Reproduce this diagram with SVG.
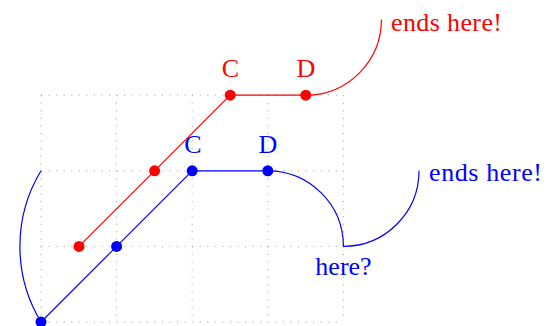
<svg xmlns="http://www.w3.org/2000/svg" width="559" height="326" viewBox="0 0 559 326">
<style>
.grid{stroke:#a0a0a0;stroke-width:1;stroke-dasharray:1 6.56;fill:none}
.red{stroke:#ff0000;stroke-width:1.2;fill:none}
.blue{stroke:#0000ff;stroke-width:1.2;fill:none}
.t{font-family:"Liberation Serif","Times New Roman",serif;font-size:26px}
.tr{fill:#ff0000}
.tb{fill:#0000ff}
</style>
<rect width="559" height="326" fill="#ffffff"/>
<g id="grid">
<path class="grid" d="M41,95.2V322M116.6,95.2V322M192.2,95.2V322M267.8,95.2V322M343.4,95.2V322"/>
<path class="grid" d="M41,95.2H343.4M41,170.8H343.4M41,246.4H343.4M41,322H343.4"/>
</g>
<g id="connectors">
<path class="red" d="M79,246.4L154.6,170.8L230.2,95.2H305.8A75.6,75.6 0 0 0 381.4,19.6"/>
<path class="blue" d="M41,322L116.6,246.4L192.2,170.8H267.8A75.6,75.6 0 0 1 343.4,246.4A75.6,75.6 0 0 0 419,170.8"/>
<path class="blue" d="M41,322A146,146 0 0 1 41,170.8"/>
</g>
<g id="red-nodes" fill="#ff0000">
<g id="rA"><circle cx="79" cy="246.4" r="5.5"/></g>
<g id="rB"><circle cx="154.6" cy="170.8" r="5.5"/></g>
<g id="rC"><circle cx="230.2" cy="95.2" r="5.5"/><text class="t tr" x="230.5" y="77" text-anchor="middle">C</text></g>
<g id="rD"><circle cx="305.8" cy="95.2" r="5.5"/><text class="t tr" x="306" y="77" text-anchor="middle">D</text></g>
<g id="rEnd"><text class="t tr" x="391" y="31" textLength="111" lengthAdjust="spacing">ends here!</text></g>
</g>
<g id="blue-nodes" fill="#0000ff">
<g id="bA"><circle cx="41" cy="322" r="5.5"/></g>
<g id="bB"><circle cx="116.6" cy="246.4" r="5.5"/></g>
<g id="bC"><circle cx="192.2" cy="170.8" r="5.5"/><text class="t tb" x="193" y="153" text-anchor="middle">C</text></g>
<g id="bD"><circle cx="267.8" cy="170.8" r="5.5"/><text class="t tb" x="268" y="153" text-anchor="middle">D</text></g>
<g id="bHere"><text class="t tb" x="343.5" y="275" text-anchor="middle">here?</text></g>
<g id="bEnd"><text class="t tb" x="429" y="181" textLength="113" lengthAdjust="spacing">ends here!</text></g>
</g>
</svg>
